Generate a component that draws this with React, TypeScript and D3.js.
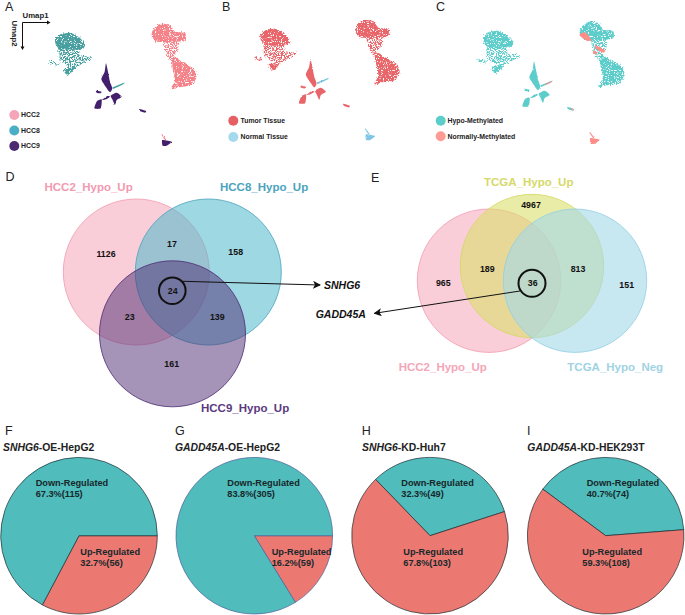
import React from "react";
import * as d3 from "d3";

type P = [number, number];
const FONT = "'Liberation Sans', Arial, sans-serif";

// UMAP outlines in map units
const blobLeftTop: P[] = [[165,118],[180,103],[210,98],[235,110],[255,130],[250,145],[215,150],[180,147],[168,135]];
const blobLeftLow: P[] = [[178,143],[235,146],[240,165],[270,170],[276,176],[240,195],[220,208],[197,195],[178,180]];
const blobLeftFoot: P[] = [[192,206],[225,203],[203,226],[192,214]];
const blobLeftSmall: P[] = [[150,182],[176,188],[168,197],[150,190]];
const blobMidSpine: P[] = [[318,190],[324,215],[330,245],[337,265],[330,277],[318,262],[304,238],[314,215]];
const blobMidRight: P[] = [[332,287],[350,278],[365,290],[350,300],[345,315],[338,300]];
const blobMidLeft: P[] = [[291,303],[305,298],[302,325],[283,325]];
const blobMidBit: P[] = [[288,272],[305,275],[300,280],[290,278]];
const blobMidLink: P[] = [[306,300],[322,288],[330,290],[318,298]];
const blobStreak: P[] = [[338,262],[372,248],[370,253],[342,266]];
const blobTiny: P[] = [[418,327],[438,333],[435,338],[420,333]];
const blobBottom: P[] = [[487,420],[515,425],[500,437],[488,437]];
const blobBottomTail: P[] = [[486,402],[498,418],[495,420],[485,405]];
const blobRightTop: P[] = [[460,88],[480,72],[510,75],[525,95],[555,98],[557,120],[530,125],[470,125],[455,105]];
const blobRightMid: P[] = [[490,122],[535,122],[535,150],[520,168],[535,192],[520,202],[505,175],[495,155]];
const blobRightLow: P[] = [[520,170],[545,185],[580,205],[590,230],[575,255],[535,262],[512,268],[525,240],[518,205]];
const patchA: P[] = [[454,111],[471,103],[491,126],[476,128]];
const patchB: P[] = [[501,141],[531,156],[526,164],[506,154]];
const patchC: P[] = [[496,158],[511,164],[496,168]];
const patchD: P[] = [[352,258],[371,249],[370,253],[354,261]];
const patchE: P[] = [[428,331],[438,333],[435,338]];
const specks: P[] = [[195,125],[215,130],[205,118],[230,135],[210,155],[225,175],[200,170],[240,165],[235,185],[250,172],[510,100],[530,110],[525,180],[545,215],[560,240],[535,225],[550,200],[530,250],[570,225],[495,90]];

const denseLeft = [blobLeftTop, blobLeftFoot];
const sparseLeft = [blobLeftLow, blobLeftSmall];
const midBlobs = [blobMidSpine, blobMidRight, blobMidLeft, blobMidBit, blobMidLink];
const denseRight = [blobRightTop, blobRightLow];
const redPatches = [patchA, patchB, patchC, patchD, patchE];

const legendA = ["HCC2", "HCC8", "HCC9"];
const legendB = ["Tumor Tissue", "Normal Tissue"];
const legendC = ["Hypo-Methylated", "Normally-Methylated"];
const legendColA = ["#f4a6b8", "#4aaec6", "#4b2a72"];
const legendColB = ["#e55f63", "#a5daee"];
const legendColC = ["#5ccdcb", "#ff9a94"];

// Venn D & E
const vennDNames = ["HCC2_Hypo_Up", "HCC8_Hypo_Up", "HCC9_Hypo_Up"];
const vennDCounts = ["1126", "17", "158", "24", "23", "139", "161"];
const vennENames = ["HCC2_Hypo_Up", "TCGA_Hypo_Up", "TCGA_Hypo_Neg"];
const vennECounts = ["965", "4967", "189", "36", "813", "151"];

// Pies: wedge sizes as drawn in the picture, labels as printed
const pieTitles = [["SNHG6", "-OE-HepG2"], ["GADD45A", "-OE-HepG2"], ["SNHG6", "-KD-Huh7"], ["GADD45A", "-KD-HEK293T"]];
const downLabels = ["67.3%(115)", "83.8%(305)", "32.3%(49)", "40.7%(74)"];
const upLabels = ["32.7%(56)", "16.2%(59)", "67.8%(103)", "59.3%(108)"];
const upWedges = [56, 59, 103, 108];
const downWedges = [115, 305, 49, 68];

function Umap({ ox, oy, k, cols, patches }: { ox: number; oy: number; k: number; cols: Record<string, string>; patches?: boolean }) {
  const x = d3.scaleLinear().domain([0, 690]).range([ox, ox + 230 * k]);
  const y = d3.scaleLinear().domain([0, 510]).range([oy, oy + 170 * k]);
  const line = d3.line<P>().curve(d3.curveCardinalClosed.tension(0.4)).x((d) => x(d[0])).y((d) => y(d[1]));
  const shape = (pts: P[], fill: string, i: string) => <path key={i} d={line(pts) || ""} fill={fill} />;
  return (
    <g>
      <g filter="url(#stipple)">
        {denseLeft.map((b, i) => shape(b, cols.left, "l" + i))}
        {denseRight.map((b, i) => shape(b, cols.right, "r" + i))}
      </g>
      <g filter="url(#sparse)">
        {sparseLeft.map((b, i) => shape(b, cols.left, "ls" + i))}
        {shape(blobRightMid, cols.right, "rm")}
      </g>
      <g filter="url(#rough)">
        {midBlobs.map((b, i) => shape(b, cols.mid, "m" + i))}
        {shape(blobTiny, cols.tiny, "t")}
        {shape(blobStreak, cols.streak, "s")}
        {shape(blobBottom, cols.low, "lo")}
        {shape(blobBottomTail, cols.tail, "ta")}
        {patches && redPatches.map((b, i) => shape(b, cols.low, "p" + i))}
      </g>
      {specks.map((s, i) => <circle key={"sp" + i} cx={x(s[0])} cy={y(s[1])} r={0.7} fill="#fff" />)}
    </g>
  );
}

function Legend({ names, cols, cx, ys, tx }: { names: string[]; cols: string[]; cx: number; ys: number[]; tx: number }) {
  return (
    <g>
      {names.map((n, i) => (
        <g key={n}>
          <circle cx={cx} cy={ys[i]} r={5} fill={cols[i]} />
          <text x={tx} y={ys[i] + 2.4} fontSize={6.9} fontWeight="bold" fill="#222">{n}</text>
        </g>
      ))}
    </g>
  );
}

const letters: [string, number, number][] = [["A",5,11],["B",222,11],["C",436,11],["D",5.5,180.7],["E",371,181.5],["F",5,435],["G",175,435],["H",361.7,435],["I",527,435]];

const PIE_CX = [79, 254.3, 430, 605.7];
const PIE_START = [90, 90, -44, -53.5];
const PIE_STROKE = ["#1e2e33", "#4a5f9a", "#1e2e33", "#1e2e33"];
const DOWN_X = [35.7, 227.3, 401.3, 586.7];
const UP_X = [80.3, 271.7, 403.3, 582.3];
const PIE_TX = [3, 175, 362, 527.3];

function Pie({ i }: { i: number }) {
  const r = 78.3;
  const a0 = (PIE_START[i] * Math.PI) / 180;
  const upFirst = i < 2;
  const rows = upFirst
    ? [{ v: upWedges[i], c: "#ec7872" }, { v: downWedges[i], c: "#50bcbc" }]
    : [{ v: downWedges[i], c: "#50bcbc" }, { v: upWedges[i], c: "#ec7872" }];
  const arcs = d3.pie<{ v: number; c: string }>().sort(null).value((d) => d.v).startAngle(a0).endAngle(a0 + 2 * Math.PI)(rows);
  const arc = d3.arc<any>().innerRadius(0).outerRadius(r);
  return (
    <g>
      <g transform={`translate(${PIE_CX[i]},535.7)`}>
        {arcs.map((a, j) => <path key={j} d={arc(a) || ""} fill={a.data.c} stroke={PIE_STROKE[i]} strokeWidth={0.7} />)}
      </g>
      <text x={PIE_TX[i]} y={450.5} fontSize={10.4} fontWeight="bold" fill="#222">
        <tspan fontStyle="italic">{pieTitles[i][0]}</tspan>{pieTitles[i][1]}
      </text>
      <g fontSize={9.2} fontWeight="bold" fill="#16282a">
        <text x={DOWN_X[i]} y={485.7}>Down-Regulated</text>
        <text x={DOWN_X[i]} y={497}>{downLabels[i]}</text>
        <text x={UP_X[i]} y={555}>Up-Regulated</text>
        <text x={UP_X[i]} y={566}>{upLabels[i]}</text>
      </g>
    </g>
  );
}

function NoiseFilter({ id, slope, off, scale, seed }: { id: string; slope: number; off: number; scale: number; seed: number }) {
  return (
    <filter id={id} x="-5%" y="-5%" width="110%" height="110%" colorInterpolationFilters="sRGB">
      <feTurbulence type="fractalNoise" baseFrequency={0.85} numOctaves={2} seed={seed} result="n" />
      <feDisplacementMap in="SourceGraphic" in2="n" scale={scale} xChannelSelector="R" yChannelSelector="G" result="d" />
      <feColorMatrix in="n" type="matrix" values={`0 0 0 0 0 0 0 0 0 0 0 0 0 0 0 0 0 0 ${slope} ${off}`} result="mask" />
      <feComposite in="d" in2="mask" operator="in" />
    </filter>
  );
}

export default function App() {
  const colsA = { left: "#479f9f", mid: "#44206c", tiny: "#44206c", streak: "#479f9f", right: "#f48288", low: "#44206c", tail: "#f48288" };
  const colsB = { left: "#e8666a", mid: "#e8666a", tiny: "#e8666a", streak: "#74bfe0", right: "#e8666a", low: "#7ec6e8", tail: "#7ec6e8" };
  const colsC = { left: "#5ccdcb", mid: "#5ccdcb", tiny: "#5ccdcb", streak: "#5ccdcb", right: "#5ccdcb", low: "#ff8d88", tail: "#ff8d88" };

  const dCircles = [
    { x: 136.3, y: 272, c: "#f4a6b8", s: "#f29ab0", o: 0.55 },
    { x: 208.3, y: 272, c: "#4fb8cc", s: "#4aa3bd", o: 0.55 },
    { x: 172.5, y: 333.8, c: "#4b2a72", s: "#4b2a72", o: 0.5 },
  ];
  const eCircles = [
    { x: 489, y: 280.7, c: "#f4a6b8", s: "#f29ab0", o: 0.55 },
    { x: 532, y: 266, c: "#dbe06c", s: "#d3d860", o: 0.6 },
    { x: 575, y: 280.7, c: "#a5d8e8", s: "#92cfe2", o: 0.62 },
  ];
  const dPos: P[] = [[106,253.7],[172,244],[235.7,252.3],[172.7,291.3],[129.7,317.3],[217.3,317.3],[171.7,364.3]];
  const ePos: P[] = [[443.3,283.3],[531,205],[487.3,269.3],[532.7,283],[578,269.3],[626.7,285]];
  return (
    <svg width={685} height={615} viewBox="0 0 685 615" style={{ position: "absolute", left: 0, top: 0, background: "#fff" }} fontFamily={FONT}>
      <defs>
        <marker id="ah" viewBox="0 -4 8 8" refX={7} refY={0} markerWidth={8} markerHeight={8} markerUnits="userSpaceOnUse" orient="auto">
          <path d="M0,-4L8,0L0,4L2,0Z" fill="#111" />
        </marker>
        <NoiseFilter id="stipple" slope={-9} off={6.3} scale={4} seed={3} />
        <NoiseFilter id="sparse" slope={-9} off={5.1} scale={5} seed={8} />
        <NoiseFilter id="rough" slope={0} off={1} scale={2} seed={5} />
      </defs>
      {letters.map(([t, x, y]) => <text key={t} x={x} y={y} fontSize={12.5} fill="#222">{t}</text>)}

      {/* Umap key */}
      <path d="M22.5,49L22.5,22.5L49.5,22.5" fill="none" stroke="#111" strokeWidth={1} />
      <path d="M47,20.5L50.5,22.5L47,24.5Z M20.5,46.5L22.5,50L24.5,46.5Z" fill="#111" />
      <text x={22.5} y={18} fontSize={7.8} fontWeight="bold" fill="#222">Umap1</text>
      <text transform="translate(11.5,20.5) rotate(90)" fontSize={7.8} fontWeight="bold" fill="#222">Umap2</text>

      <Umap ox={0} oy={0} k={1} cols={colsA} />
      <Umap ox={206} oy={-3.5} k={0.985} cols={colsB} />
      <Umap ox={428} oy={-2} k={1} cols={colsC} patches />
      <Legend names={legendA} cols={legendColA} cx={14.3} ys={[115, 130.5, 146]} tx={21} />
      <Legend names={legendB} cols={legendColB} cx={233.3} ys={[120.7, 137]} tx={240.5} />
      <Legend names={legendC} cols={legendColC} cx={440.7} ys={[120.7, 136.3]} tx={447.5} />

      {/* Venn D */}
      {dCircles.map((c, i) => <circle key={i} cx={c.x} cy={c.y} r={73} fill={c.c} fillOpacity={c.o} stroke={c.s} strokeWidth={0.8} />)}
      <g fontSize={11.5} fontWeight="bold">
        <text x={44.5} y={191} fill="#f29ab0">{vennDNames[0]}</text>
        <text x={220} y={191} fill="#4aa3bd">{vennDNames[1]}</text>
        <text x={201} y={411.5} fill="#5b3a80">{vennDNames[2]}</text>
      </g>
      <g fontSize={8.8} fontWeight="bold" fill="#111" textAnchor="middle">
        {vennDCounts.map((t, i) => <text key={i} x={dPos[i][0]} y={dPos[i][1] + 3.1}>{t}</text>)}
      </g>
      <circle cx={172.3} cy={290.7} r={13.3} fill="none" stroke="#111" strokeWidth={2} />
      <line x1={182.7} y1={281.3} x2={320} y2={285} stroke="#111" strokeWidth={1} markerEnd="url(#ah)" />
      <text x={324} y={289} fontSize={10.5} fontWeight="bold" fontStyle="italic" fill="#111">SNHG6</text>
      <text x={315.7} y={317.7} fontSize={10.5} fontWeight="bold" fontStyle="italic" fill="#111">GADD45A</text>

      {/* Venn E */}
      {eCircles.map((c, i) => <circle key={i} cx={c.x} cy={c.y} r={71.7} fill={c.c} fillOpacity={c.o} stroke={c.s} strokeWidth={0.8} />)}
      <g fontSize={11.5} fontWeight="bold">
        <text x={398.7} y={370.7} fill="#f4a6b8">{vennENames[0]}</text>
        <text x={484} y={185.7} fill="#d5d968">{vennENames[1]}</text>
        <text x={567.3} y={370.7} fill="#9fd3e3">{vennENames[2]}</text>
      </g>
      <g fontSize={8.8} fontWeight="bold" fill="#111" textAnchor="middle">
        {vennECounts.map((t, i) => <text key={i} x={ePos[i][0]} y={ePos[i][1] + 3.1}>{t}</text>)}
      </g>
      <circle cx={532} cy={283.3} r={13.5} fill="none" stroke="#111" strokeWidth={2} />
      <line x1={520} y1={291} x2={374.5} y2={313.3} stroke="#111" strokeWidth={1} markerEnd="url(#ah)" />

      {[0, 1, 2, 3].map((i) => <Pie key={i} i={i} />)}
    </svg>
  );
}
